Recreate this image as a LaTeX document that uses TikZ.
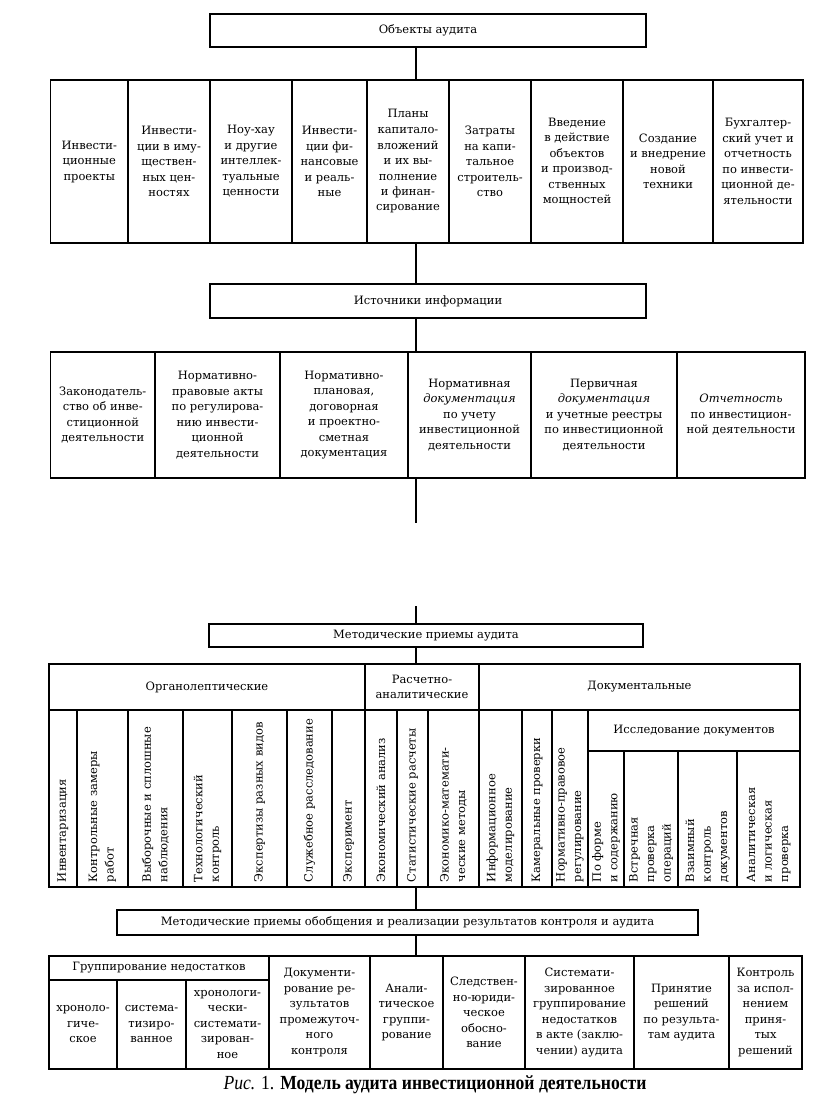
\documentclass[tikz,border=0pt]{standalone}
\usepackage{fontspec}
\usepackage{graphicx}
\setmainfont{DejaVu Serif}
\newfontfamily\capfont{Liberation Serif}
\tikzset{
  txt/.style={font=\fontsize{11.5}{15.5}\selectfont},
  cellbox/.style={draw, line width=1.5pt, inner sep=0pt, outer sep=0pt, anchor=north west, align=center, txt},
  thinbox/.style={cellbox, line width=1.1pt},
  rotbox/.style={draw, line width=1.1pt, rotate=90, inner xsep=5pt, inner ysep=0pt, outer sep=0pt, align=left, anchor=center, font=\fontsize{11.5}{16.5}\selectfont},
  conn/.style={line width=1.1pt},
}
\newcommand\mycell[7][cellbox]{%
  \node[#1, minimum width={(#5-#3)*1pt}, minimum height={(#6-#4)*1pt}] (#2) at (#3,#4) {#7};}
\newcommand\myrot[6]{%
  \node[rotbox, minimum width={(#5-#3)*1pt}, minimum height={(#4-#2)*1pt}, text width={(#5-#3-10)*1pt}] (#1) at ({(#2+#4)/2},{(#3+#5)/2}) {#6};}
\begin{document}
\begin{tikzpicture}[x=1pt,y=-1pt]
\useasboundingbox (0,0) rectangle (816,1106);
\coordinate (X) at (416,0);
% ---------- Objects
\mycell{obj}{210}{14}{646}{47}{Объекты аудита}
\mycell{r1a}{50.5}{80}{128}{243}{Инвести-\\ционные\\проекты}
\mycell{r1b}{128}{80}{210}{243}{Инвести-\\ции в иму-\\ществен-\\ных цен-\\ностях}
\mycell{r1c}{210}{80}{292}{243}{Ноу-хау\\и другие\\интеллек-\\туальные\\ценности}
\mycell{r1d}{292}{80}{367}{243}{Инвести-\\ции фи-\\нансовые\\и реаль-\\ные}
\mycell{r1e}{367}{80}{449}{243}{Планы\\капитало-\\вложений\\и их вы-\\полнение\\и финан-\\сирование}
\mycell{r1f}{449}{80}{531}{243}{Затраты\\на капи-\\тальное\\строитель-\\ство}
\mycell{r1g}{531}{80}{623}{243}{Введение\\в действие\\объектов\\и производ-\\ственных\\мощностей}
\mycell{r1h}{623}{80}{713}{243}{Создание\\и внедрение\\новой\\техники}
\mycell{r1i}{713}{80}{803}{243}{Бухгалтер-\\ский учет и\\отчетность\\по инвести-\\ционной де-\\ятельности}
% ---------- Sources
\mycell{src}{210}{284}{646}{318}{Источники информации}
\mycell{r2a}{50.5}{352}{155}{478}{Законодатель-\\ство об инве-\\стиционной\\деятельности}
\mycell{r2b}{155}{352}{280}{478}{Нормативно-\\правовые акты\\по регулирова-\\нию инвести-\\ционной\\деятельности}
\mycell{r2c}{280}{352}{408}{478}{Нормативно-\\плановая,\\договорная\\и проектно-\\сметная\\документация}
\mycell{r2d}{408}{352}{531}{478}{Нормативная\\\textit{документация}\\по учету\\инвестиционной\\деятельности}
\mycell{r2e}{531}{352}{677}{478}{Первичная\\\textit{документация}\\и учетные реестры\\по инвестиционной\\деятельности}
\mycell{r2f}{677}{352}{805}{478}{\textit{Отчетность}\\по инвестицион-\\ной деятельности}
\coordinate (g1) at (416,523);
\coordinate (g2) at (416,606);
% ---------- Methods
\mycell[thinbox]{met}{209}{624}{643}{647}{Методические приемы аудита}
\mycell[thinbox]{mtab}{49}{664}{800}{887}{}
\mycell[thinbox]{org}{49}{664}{365}{710}{Органолептические}
\mycell[thinbox]{rasch}{365}{664}{479}{710}{Расчетно-\\аналитические}
\mycell[thinbox]{docs}{479}{664}{800}{710}{Документальные}
\mycell[thinbox]{issl}{588}{710}{800}{751}{Исследование документов}
\myrot{m1}{49}{710}{77}{887}{Инвентаризация}
\myrot{m2}{77}{710}{128}{887}{Контрольные замеры\\работ}
\myrot{m3}{128}{710}{183}{887}{Выборочные и сплошные\\наблюдения}
\myrot{m4}{183}{710}{232}{887}{Технологический\\контроль}
\myrot{m5}{232}{710}{287}{887}{Экспертизы разных видов}
\myrot{m6}{287}{710}{332}{887}{Служебное расследование}
\myrot{m7}{332}{710}{365}{887}{Эксперимент}
\myrot{m8}{365}{710}{397}{887}{Экономический анализ}
\myrot{m9}{397}{710}{428}{887}{Статистические расчеты}
\myrot{m10}{428}{710}{479}{887}{Экономико-математи-\\ческие методы}
\myrot{m11}{479}{710}{522}{887}{Информационное\\моделирование}
\myrot{m12}{522}{710}{552}{887}{Камеральные проверки}
\myrot{m13}{552}{710}{588}{887}{Нормативно-правовое\\регулирование}
\myrot{m14}{588}{751}{624}{887}{По форме\\и содержанию}
\myrot{m15}{624}{751}{678}{887}{Встречная\\проверка\\операций}
\myrot{m16}{678}{751}{737}{887}{Взаимный\\контроль\\документов}
\myrot{m17}{737}{751}{800}{887}{Аналитическая\\и логическая\\проверка}
% ---------- Generalisation
\mycell[thinbox]{obob}{117}{910}{698}{935}{Методические приемы обобщения и реализации результатов контроля и аудита}
\mycell[thinbox]{grp}{49}{956}{269}{980}{Группирование недостатков}
\mycell[thinbox]{b1}{49}{980}{117}{1069}{хроноло-\\гиче-\\ское}
\mycell[thinbox]{b2}{117}{980}{186}{1069}{система-\\тизиро-\\ванное}
\mycell[thinbox]{b3}{186}{980}{269}{1069}{хронологи-\\чески-\\системати-\\зирован-\\ное}
\mycell[thinbox]{b4}{269}{956}{370}{1069}{Документи-\\рование ре-\\зультатов\\промежуточ-\\ного\\контроля}
\mycell[thinbox]{b5}{370}{956}{443}{1069}{Анали-\\тическое\\группи-\\рование}
\mycell[thinbox]{b6}{443}{956}{525}{1069}{Следствен-\\но-юриди-\\ческое\\обосно-\\вание}
\mycell[thinbox]{b7}{525}{956}{634}{1069}{Системати-\\зированное\\группирование\\недостатков\\в акте (заклю-\\чении) аудита}
\mycell[thinbox]{b8}{634}{956}{729}{1069}{Принятие\\решений\\по результа-\\там аудита}
\mycell[thinbox]{b9}{729}{956}{802}{1069}{Контроль\\за испол-\\нением\\приня-\\тых\\решений}
% ---------- Connectors
\draw[conn] (obj.south -| X) -- (r1e.north -| X);
\draw[conn] (r1e.south -| X) -- (src.north -| X);
\draw[conn] (src.south -| X) -- (r2d.north -| X);
\draw[conn] (r2d.south -| X) -- (g1);
\draw[conn] (g2) -- (met.north -| X);
\draw[conn] (met.south -| X) -- (rasch.north -| X);
\draw[conn] (mtab.south -| X) -- (obob.north -| X);
\draw[conn] (obob.south -| X) -- (b5.north -| X);
% ---------- Caption
\node[anchor=center] (cap) at (435,1085) {\capfont\fontsize{20}{24}\selectfont\scalebox{0.88}[1]{\textit{Рис.} 1. \textbf{Модель аудита инвестиционной деятельности}}};
\end{tikzpicture}
\end{document}
